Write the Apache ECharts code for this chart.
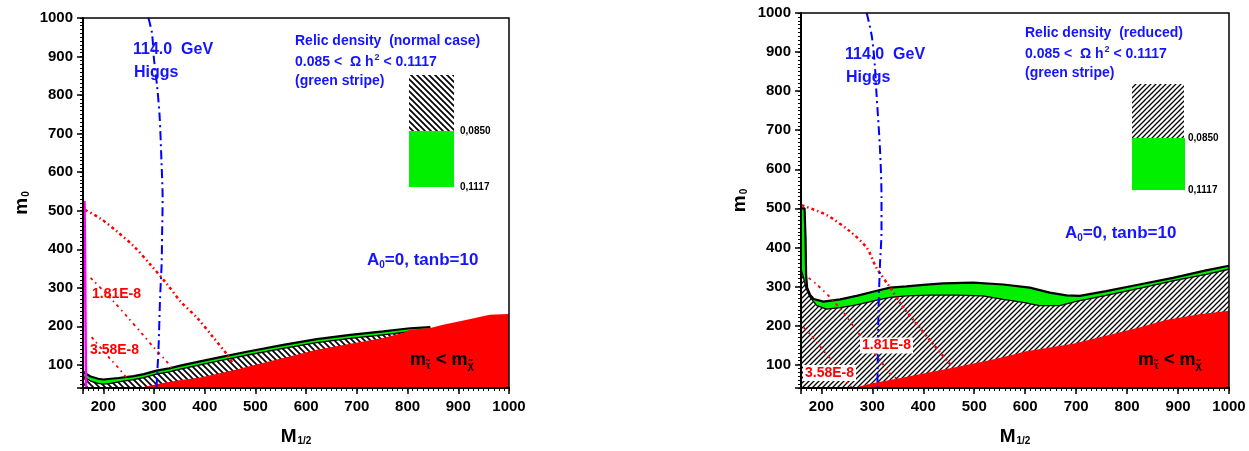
<!DOCTYPE html>
<html><head><meta charset="utf-8">
<script src="https://cdn.jsdelivr.net/npm/echarts@6/dist/echarts.min.js"></script>
<style>html,body{margin:0;padding:0;background:#fff}#c{width:1249px;height:451px}</style>
</head><body><div id="c"></div>
<script>
// ---------- data (M1/2, m0) ----------
// Left panel: normal relic density
const higgsA = [[289,1000],[296,961],[300,893],[306,824],[311,747],[315,618],[317,532],[316,440],[315,360],[312,274],[309,146],[306,68],[305,40]];
const magentaA = [[163,525],[164,400],[165,200],[166,40]];
const stripeTopA = [[160,83],[165,78],[175,70],[190,64],[200,62],[215,64],[230,66],[260,71],[280,76],[305,85],[330,91],[352,98],[391,109],[431,120],[483,134],[555,152],[621,167],[687,178],[752,187],[805,195],[845,198]];
const stripeBotA = [[160,71],[165,66],[175,58],[190,52],[200,50],[215,52],[230,56],[260,62],[280,67],[305,76],[330,82],[352,89],[391,100],[431,111],[483,125],[555,143],[621,158],[687,169],[752,178],[805,186],[845,190]];
const redTopA = [[270,40],[312,52],[350,60],[391,67],[457,86],[490,97],[555,118],[621,139],[687,155],[752,170],[790,183],[805,191],[845,196],[870,204],[917,217],[962,230],[1000,232]];
const dmA1 = [[164,502],[194,480],[227,446],[260,408],[293,360],[326,309],[352,265],[385,222],[417,171],[444,127],[457,101]];
const dmA2 = [[175,326],[220,265],[247,225],[277,180],[299,146],[326,107],[335,90]];
const dmA3 = [[177,172],[214,115],[230,92],[250,60]];
// Right panel: reduced relic density
const higgsB = [[289,1000],[299,940],[305,864],[308,797],[315,652],[318,526],[318,442],[315,356],[312,229],[310,40]];
const stripeTopB = [[160,500],[167,500],[169,420],[170,330],[172,297],[178,278],[185,268],[204,261],[237,267],[269,276],[309,289],[335,297],[367,300],[400,304],[439,308],[498,310],[557,305],[609,297],[648,284],[681,277],[707,276],[759,288],[824,305],[890,322],[955,341],[1000,353]];
const stripeBotB = [[160,345],[165,322],[170,295],[178,272],[191,251],[210,242],[237,246],[269,253],[309,265],[335,272],[367,276],[413,278],[465,278],[517,276],[557,267],[596,259],[628,251],[668,251],[700,262],[720,267],[759,277],[824,295],[890,314],[955,331],[1000,344]];
const redTopB = [[262,40],[300,52],[348,64],[400,77],[465,94],[530,111],[570,123],[602,134],[694,153],[746,170],[824,195],[876,214],[942,229],[1000,238]];
const dmB1 = [[161,508],[210,483],[256,441],[289,399],[308,348],[335,297],[361,246],[387,204],[419,153],[452,102],[459,94]];
const dmB2 = [[175,322],[191,305],[217,272],[246,229],[269,187],[289,153],[315,111],[335,77],[348,64]];
const dmB3 = [[165,195],[178,178],[204,136],[230,94],[252,52],[259,43]];
// labels
const contourLabels = ['1.81E-8','3.58E-8'];
const legendLabels = ['0,0850','0,1117'];

// ---------- styling ----------
const FF = '"Liberation Sans", Arial, sans-serif';
const GREEN = '#00f000', BLUE = '#1414ff', RED = '#ff0000';

function makeHatch(s, dir, w) {
  const c = document.createElement('canvas');
  c.width = s; c.height = s;
  const g = c.getContext('2d');
  g.fillStyle = '#fff'; g.fillRect(0, 0, s, s);
  g.strokeStyle = '#000'; g.lineWidth = w;
  g.beginPath();
  for (const k of [-s, 0, s]) {
    if (dir === 'back') { g.moveTo(k - 1, -1); g.lineTo(k + s + 1, s + 1); }
    else { g.moveTo(k - 1, s + 1); g.lineTo(k + s + 1, -1); }
  }
  g.stroke();
  return c;
}
const hatchA = makeHatch(6, 'back', 1.7);
const hatchB = makeHatch(5, 'fwd', 1.3);

const nameRich = {
  m: {fontSize: 19, fontWeight: 'bold', fontFamily: FF, color: '#000'},
  s: {fontSize: 10, fontWeight: 'bold', fontFamily: FF, color: '#000', padding: [9, 0, 0, 1]}
};
function xMajor(gi) {
  return {type: 'value', gridIndex: gi, position: 'bottom', min: 160, max: 1000, splitNumber: 8,
    minInterval: 100, maxInterval: 100, z: 10,
    axisLine: {show: true, onZero: false, lineStyle: {color: '#000', width: 2}},
    axisTick: {show: true, inside: false, length: 6, lineStyle: {color: '#000', width: 1.5}},
    axisLabel: {show: true, margin: 11, color: '#000', fontSize: 15, fontWeight: 'bold', fontFamily: FF,
      formatter: v => (v % 100 === 0 ? String(v) : '')},
    splitLine: {show: false},
    name: '{m|M}{s|1/2}', nameLocation: 'middle', nameGap: 39, nameTextStyle: {rich: nameRich}};
}
function xMinor(gi) {
  return {type: 'value', gridIndex: gi, position: 'bottom', min: 160, max: 1000, interval: 10, z: 9,
    axisLine: {show: false}, axisTick: {show: true, length: 3, lineStyle: {color: '#000', width: 1}},
    axisLabel: {show: false}, splitLine: {show: false}};
}
function yMajor(gi) {
  return {type: 'value', gridIndex: gi, position: 'left', min: 40, max: 1000, splitNumber: 9,
    minInterval: 100, maxInterval: 100, z: 10,
    axisLine: {show: true, onZero: false, lineStyle: {color: '#000', width: 2}},
    axisTick: {show: true, inside: false, length: 6, lineStyle: {color: '#000', width: 1.5}},
    axisLabel: {show: true, margin: 10, color: '#000', fontSize: 15, fontWeight: 'bold', fontFamily: FF,
      formatter: v => (v % 100 === 0 ? String(v) : '')},
    splitLine: {show: false},
    name: '{m|m}{s|0}', nameLocation: 'middle', nameRotate: 90, nameGap: 52, nameTextStyle: {rich: nameRich}};
}
function yMinor(gi) {
  return {type: 'value', gridIndex: gi, position: 'left', min: 40, max: 1000, interval: 10, z: 9,
    axisLine: {show: false}, axisTick: {show: true, length: 3, lineStyle: {color: '#000', width: 1}},
    axisLabel: {show: false}, splitLine: {show: false}};
}

function panelSeries(gi, d) {
  const ax = {xAxisIndex: gi * 2, yAxisIndex: gi * 2, symbol: 'none', animation: false, silent: true};
  const s = [
    Object.assign({type: 'line', data: d.stripeTop, z: 2, lineStyle: {color: '#000', width: 2.2},
      areaStyle: {color: GREEN, opacity: 1, origin: 'start'}}, ax),
    Object.assign({type: 'line', data: d.stripeBot, z: 3, lineStyle: {color: '#000', width: 1.3},
      areaStyle: {color: {image: d.hatch, repeat: 'repeat'}, opacity: 1, origin: 'start'}}, ax),
    Object.assign({type: 'line', data: d.red, z: 4, lineStyle: {width: 0},
      areaStyle: {color: RED, opacity: 1, origin: 'start'}}, ax),
    Object.assign({type: 'line', data: d.dm1, z: 5, smooth: 0.3, lineStyle: {color: RED, width: 2.5, type: [3, 3, 1.5, 3]}}, ax),
    Object.assign({type: 'line', data: d.dm2, z: 5, smooth: 0.3, lineStyle: {color: RED, width: 1.8, type: [3, 4, 1.5, 4]}}, ax),
    Object.assign({type: 'line', data: d.dm3, z: 5, smooth: 0.3, lineStyle: {color: RED, width: 1.8, type: [3, 4, 1.5, 4]}}, ax),
    Object.assign({type: 'line', data: d.higgs, z: 6, smooth: 0.3, lineStyle: {color: '#0000ff', width: 2, type: [9, 4, 2, 4]}}, ax)
  ];
  if (d.magenta) s.push(Object.assign({type: 'line', data: d.magenta, z: 6, lineStyle: {color: '#ff00ff', width: 2.5}}, ax));
  return s;
}

function txt(x, y, text, o) {
  return {type: 'text', x: x, y: y, z: 100, silent: true,
    style: Object.assign({text: text, fill: BLUE, fontFamily: FF, fontWeight: 'bold', fontSize: 14,
      align: 'left', verticalAlign: 'middle'}, o || {})};
}
function tok(size, color, pad) {
  const t = {fontSize: size, fontWeight: 'bold', fontFamily: FF, fill: color};
  if (pad) t.padding = pad;
  return t;
}
function annotations(P) {
  const g = [];
  g.push(txt(P.higgs[0], P.higgs[1], '114.0  GeV', {fontSize: 16}));
  g.push(txt(P.higgs[0] + 1, P.higgs[1] + 23, 'Higgs', {fontSize: 16}));
  g.push(txt(P.relic[0], P.relic[1], P.relicTitle, {fontSize: 14}));
  g.push(txt(P.relic[0], P.relic[1] + 20.5, '{a|0.085 <  \u03A9 h}{p|2}{a| < 0.1117}',
    {rich: {a: tok(14, BLUE), p: tok(9, BLUE, [0, 0, 9, 1])}}));
  g.push(txt(P.relic[0], P.relic[1] + 40, '(green stripe)', {fontSize: 14}));
  g.push({type: 'rect', z: 100, silent: true, shape: P.hatchBox, style: {fill: {image: P.hatch, repeat: 'repeat'}}});
  g.push({type: 'rect', z: 100, silent: true, shape: P.greenBox, style: {fill: GREEN}});
  g.push(txt(P.legLab[0], P.hatchBox.y + P.hatchBox.height, legendLabels[0], {fontSize: 10, fill: '#000'}));
  g.push(txt(P.legLab[0], P.greenBox.y + P.greenBox.height, legendLabels[1], {fontSize: 10, fill: '#000'}));
  g.push(txt(P.a0[0], P.a0[1], '{b|A}{s|0}{b|=0, tanb=10}',
    {rich: {b: tok(17, BLUE), s: tok(10, BLUE, [10, 0, 0, 0])}}));
  g.push(txt(P.mt[0], P.mt[1], '{b|m}{s|\u03C4\u0303}{b| < m}{s|\u03C7\u0303}',
    {rich: {b: tok(18, '#000'), s: tok(11, '#000', [11, 0, 0, 0])}}));
  const lab = P.whiteLabels ? {backgroundColor: '#fff', padding: [1, 2]} : {};
  g.push(txt(P.c1[0], P.c1[1], contourLabels[0], Object.assign({fontSize: 14, fill: RED}, lab)));
  g.push(txt(P.c2[0], P.c2[1], contourLabels[1], Object.assign({fontSize: 14, fill: RED}, lab)));
  return g;
}

const chart = echarts.init(document.getElementById('c'), null, {renderer: 'canvas'});
chart.setOption({
  backgroundColor: '#fff',
  animation: false,
  grid: [
    {left: 83, top: 18, width: 426, height: 372, show: true, z: 10, borderColor: '#000', borderWidth: 1.5, backgroundColor: 'transparent'},
    {left: 801, top: 13, width: 428, height: 378, show: true, z: 10, borderColor: '#000', borderWidth: 1.5, backgroundColor: 'transparent'}
  ],
  xAxis: [xMajor(0), xMinor(0), xMajor(1), xMinor(1)],
  yAxis: [yMajor(0), yMinor(0), yMajor(1), yMinor(1)],
  series: [].concat(
    panelSeries(0, {stripeTop: stripeTopA, stripeBot: stripeBotA, red: redTopA, dm1: dmA1, dm2: dmA2, dm3: dmA3, higgs: higgsA, magenta: magentaA, hatch: hatchA}),
    panelSeries(1, {stripeTop: stripeTopB, stripeBot: stripeBotB, red: redTopB, dm1: dmB1, dm2: dmB2, dm3: dmB3, higgs: higgsB, hatch: hatchB})
  ),
  graphic: [].concat(
    annotations({higgs: [133, 50], relic: [295, 41.5], relicTitle: 'Relic density  (normal case)',
      hatch: hatchA, hatchBox: {x: 409, y: 75, width: 45, height: 56}, greenBox: {x: 409, y: 131, width: 45, height: 56},
      legLab: [460], a0: [367, 260], mt: [410, 360], c1: [92, 294.5], c2: [90, 350.5], whiteLabels: false}),
    annotations({higgs: [845, 55], relic: [1025, 33.5], relicTitle: 'Relic density  (reduced)',
      hatch: hatchB, hatchBox: {x: 1132, y: 84, width: 52, height: 54}, greenBox: {x: 1132, y: 138, width: 53, height: 52},
      legLab: [1188], a0: [1065, 233], mt: [1138, 360], c1: [860, 345.5], c2: [803, 373], whiteLabels: true})
  )
});
</script></body></html>
